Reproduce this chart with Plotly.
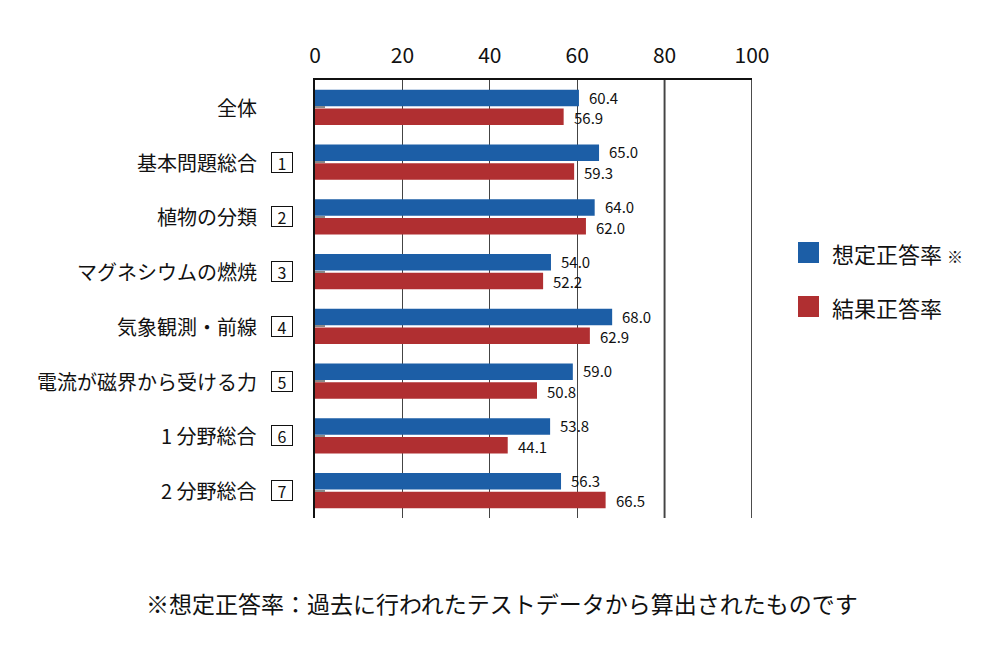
import plotly.graph_objects as go

categories = ["全体", "基本問題総合", "植物の分類", "マグネシウムの燃焼", "気象観測・前線",
              "電流が磁界から受ける力", "1 分野総合", "2 分野総合"]
box_numbers = ["", "1", "2", "3", "4", "5", "6", "7"]
expected = [60.4, 65.0, 64.0, 54.0, 68.0, 59.0, 53.8, 56.3]
actual = [56.9, 59.3, 62.0, 52.2, 62.9, 50.8, 44.1, 66.5]
series_names = ["想定正答率", "結果正答率"]
x_ticks = [0, 20, 40, 60, 80, 100]
footnote = "※想定正答率：過去に行われたテストデータから算出されたものです"

BLUE = "#1c5ea6"
RED = "#b02f31"
FONT = "Noto Sans CJK JP"

fig = go.Figure()
ypos = list(range(len(categories)))
fig.add_trace(go.Bar(y=ypos, x=expected, orientation="h", name=series_names[0],
                     marker=dict(color=BLUE, line=dict(width=0)), showlegend=False))
fig.add_trace(go.Bar(y=ypos, x=actual, orientation="h", name=series_names[1],
                     marker=dict(color=RED, line=dict(width=0)), showlegend=False))

BARGAP = 0.317
GROUPGAP = 0.107
slot = (1 - BARGAP) / 2
annotations = []
for i in ypos:
    for vals, k, ys in ((expected, 0, 1), (actual, 1, -1)):
        yc = i - (1 - BARGAP) / 2 + slot * (k + 0.5)
        annotations.append(dict(x=vals[i], y=yc, xref="x", yref="y", text=f"{vals[i]:.1f}",
                                showarrow=False, xanchor="left", yanchor="middle", xshift=8,
                                yshift=ys,
                                font=dict(family=FONT, size=15, color="#111")))
    annotations.append(dict(x=0, y=i, xref="paper", yref="y", text=categories[i],
                            showarrow=False, xanchor="right", yanchor="middle", xshift=-56,
                            font=dict(family=FONT, size=20, color="#111")))
    if box_numbers[i]:
        annotations.append(dict(x=0, y=i, xref="paper", yref="y", text=box_numbers[i],
                                showarrow=False, xanchor="center", yanchor="middle", xshift=-33,
                                width=20, height=19, borderpad=0, borderwidth=1,
                                bordercolor="#111",
                                font=dict(family=FONT, size=16, color="#111")))

legend_items = [(series_names[0] + " <span style='font-size:16px'>※</span>", BLUE, 0.0),
                (series_names[1], RED, 1.0)]
shapes = []
for text, col, k in legend_items:
    yc = 252.5 + 54 * k
    shapes.append(dict(type="rect", xref="paper", yref="paper",
                       x0=(798 - 315) / 437, x1=(819 - 315) / 437,
                       y0=(518 - (yc - 10.5)) / 438, y1=(518 - (yc + 10.5)) / 438,
                       fillcolor=col, line=dict(width=0)))
    annotations.append(dict(x=(830 - 315) / 437, y=(518 - yc) / 438, xref="paper", yref="paper",
                            text=text, showarrow=False, xanchor="left", yanchor="middle",
                            font=dict(family=FONT, size=22, color="#111")))

annotations.append(dict(x=(502 - 315) / 437, y=(518 - 603) / 438, xref="paper", yref="paper",
                        text=footnote, showarrow=False, xanchor="center", yanchor="middle",
                        font=dict(family=FONT, size=23, color="#111")))

shapes.append(dict(type="line", xref="x", yref="paper", x0=80, x1=80, y0=0, y1=1,
                   line=dict(color="#8a8a8a", width=2.5), layer="below"))
shapes.append(dict(type="line", xref="x", yref="paper", x0=100, x1=100, y0=0, y1=1,
                   line=dict(color="#111", width=1.5), layer="below"))

fig.update_layout(
    width=1000, height=660,
    margin=dict(l=315, r=248, t=80, b=142),
    paper_bgcolor="white", plot_bgcolor="white",
    barmode="group", bargap=BARGAP, bargroupgap=GROUPGAP,
    showlegend=False,
    annotations=annotations, shapes=shapes,
    font=dict(family=FONT, color="#111"),
    xaxis=dict(range=[0, 100], tickvals=x_ticks, side="top", showgrid=True,
               gridcolor="#444", gridwidth=1.3, zeroline=False,
               showline=True, linecolor="#111", linewidth=1.5,
               ticks="outside", ticklen=7, tickcolor="rgba(0,0,0,0)",
               tickfont=dict(family=FONT, size=21, color="#111"), fixedrange=True),
    yaxis=dict(range=[len(categories) - 0.5, -0.5], tickvals=ypos, showticklabels=False,
               ticks="inside", ticklen=10, tickcolor="#888", tickwidth=1.5,
               showgrid=False, zeroline=False,
               showline=True, linecolor="#111", linewidth=1.5, fixedrange=True),
)

fig.write_html("out.html")
